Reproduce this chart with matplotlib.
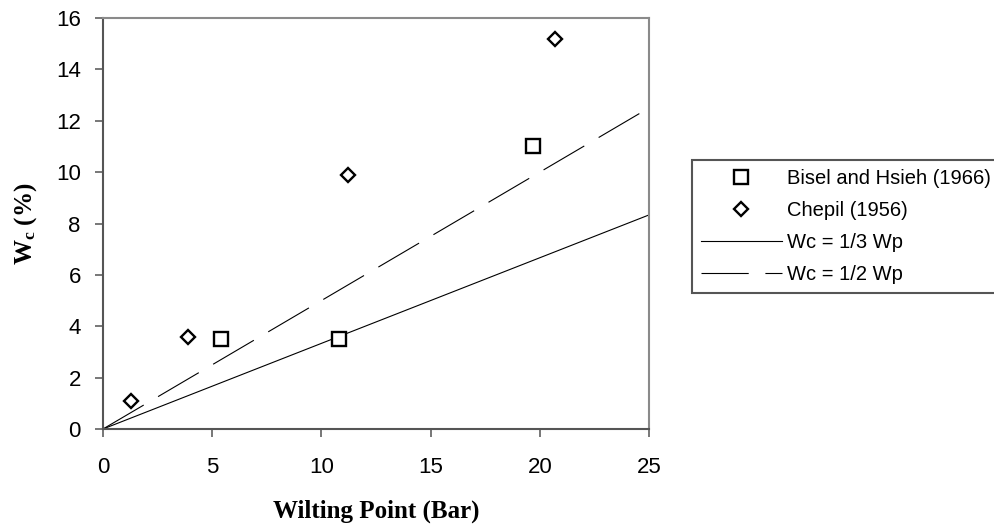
import matplotlib
matplotlib.use("Agg")
import matplotlib.pyplot as plt

plt.rcParams["font.family"] = ["Liberation Sans", "DejaVu Sans"]
plt.rcParams["mathtext.fontset"] = "custom"
plt.rcParams["mathtext.rm"] = "Liberation Serif"
plt.rcParams["mathtext.bf"] = "Liberation Serif:bold"
plt.rcParams["lines.scale_dashes"] = False

# data
bisel_wp = [5.4, 10.8, 19.7]
bisel_wc = [3.5, 3.5, 11.0]
chepil_wp = [1.3, 3.9, 11.2, 20.7]
chepil_wc = [1.1, 3.6, 9.9, 15.2]
line_wp = [0, 25]
xticks = [0, 5, 10, 15, 20, 25]
yticks = [0, 2, 4, 6, 8, 10, 12, 14, 16]

W, H = 995, 527
fig = plt.figure(figsize=(W / 100, H / 100), dpi=100)
ax = fig.add_axes([103 / W, 1 - 429 / H, (649 - 103) / W, (429 - 18) / H])

ax.plot(line_wp, [v / 3 for v in line_wp], color="black", lw=0.8,
        label="Wc = 1/3 Wp")
ax.plot(line_wp, [v / 2 for v in line_wp], color="black", lw=0.8,
        dashes=(34, 12), label="Wc = 1/2 Wp")
ax.plot(bisel_wp, bisel_wc, ls="none", marker="s", ms=9.5, mfc="white",
        mec="black", mew=1.7, label="Bisel and Hsieh (1966)")
ax.plot(chepil_wp, chepil_wc, ls="none", marker="D", ms=7.2, mfc="white",
        mec="black", mew=1.7, label="Chepil (1956)")

ax.set_xlim(0, 25)
ax.set_ylim(0, 16)
ax.set_xticks(xticks)
ax.set_yticks(yticks)
ax.tick_params(axis="both", direction="out", length=6, width=1.2,
               color="#606060", labelsize=16)
ax.tick_params(axis="x", pad=14)
ax.tick_params(axis="y", pad=10)

for side in ["top", "right"]:
    ax.spines[side].set_color("#8a8a8a")
    ax.spines[side].set_linewidth(1.5)
for side in ["left", "bottom"]:
    ax.spines[side].set_color("#555555")
    ax.spines[side].set_linewidth(1.5)

ax.set_xlabel("Wilting Point (Bar)", family="Liberation Serif",
              fontweight="bold", fontsize=18, labelpad=16)
ax.set_ylabel(r"$\mathbf{W_c}$ (%)", family="Liberation Serif",
              fontweight="bold", fontsize=18, labelpad=12)

# legend order as in the chart
h, l = ax.get_legend_handles_labels()
order = [2, 3, 0, 1]
leg = fig.legend([h[i] for i in order], [l[i] for i in order],
                 loc="upper left", bbox_to_anchor=(692 / W, 1 - 160 / H),
                 fontsize=14.5, frameon=True, fancybox=False, framealpha=1,
                 edgecolor="#555555", handlelength=4.0, handletextpad=0.25,
                 labelspacing=0.65, borderpad=0.45, borderaxespad=0)
leg.get_frame().set_linewidth(1.5)

fig.savefig("out.png", dpi=100)
